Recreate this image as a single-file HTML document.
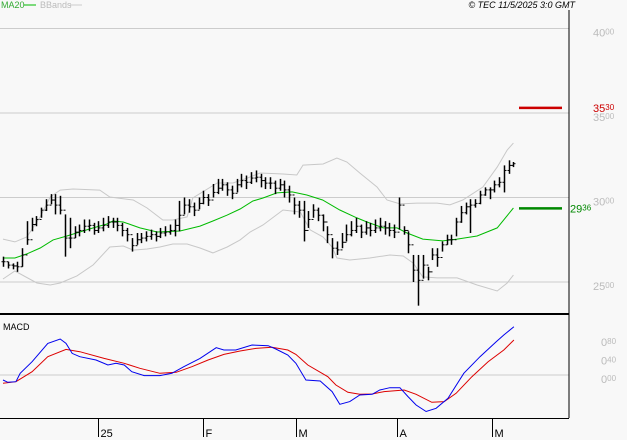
<!DOCTYPE html>
<html><head><meta charset="utf-8"><style>
html,body{margin:0;padding:0;background:#f8f8f8;}
svg{display:block;font-family:"Liberation Sans",sans-serif;}
</style></head><body>
<svg id="chart" width="627" height="440" xmlns="http://www.w3.org/2000/svg">
<rect x="0" y="0" width="627" height="440" fill="#f8f8f8"/>
<g id="grid"></g>
<g id="bands"></g>
<g id="ma"></g>
<g id="bars"></g>
<g id="macd"></g>
<g id="frame"></g>
<g id="labels"></g>
<text x="1" y="8" font-size="9" fill="#33aa33">MA20</text>
<line x1="24" y1="5" x2="36" y2="5" stroke="#00bb00" stroke-width="1"/>
<text x="40" y="8" font-size="9" fill="#bbbbbb">BBands</text>
<line x1="70" y1="5" x2="82" y2="5" stroke="#cccccc" stroke-width="1"/>
<text x="575" y="8" font-size="9" font-style="italic" text-anchor="end" fill="#000">© TEC 11/5/2025 3:0 GMT</text>
<text x="3" y="330" font-size="9" fill="#000">MACD</text>
</svg>
<script>
const closes=[2620,2600,2595,2590,2660,2750,2840,2870,2925,2955,2985,2955,2925,2760,2760,2795,2805,2830,2835,2805,2820,2835,2855,2855,2835,2805,2780,2715,2750,2760,2770,2780,2770,2790,2795,2805,2835,2895,2955,2945,2925,2965,3000,2985,3030,3055,3075,3045,3025,3075,3100,3090,3115,3120,3100,3085,3085,3055,3075,3045,3015,2955,2925,2805,2870,2925,2895,2855,2780,2700,2690,2735,2780,2805,2830,2795,2820,2805,2820,2830,2820,2805,2795,2955,2805,2720,2570,2510,2600,2560,2660,2645,2720,2750,2750,2855,2910,2945,2955,2965,3015,3045,3045,3075,3090,3160,3190,3200];
const highs=[2650,2620,2610,2620,2700,2860,2880,2890,2940,2990,3020,3020,3010,2900,2880,2830,2840,2870,2870,2850,2860,2880,2890,2880,2880,2850,2820,2760,2790,2790,2800,2810,2800,2820,2830,2840,2870,2980,3000,2990,2970,3000,3040,3020,3080,3110,3110,3090,3070,3110,3140,3130,3150,3160,3140,3120,3120,3100,3110,3100,3070,3000,2980,2980,2920,2960,2940,2900,2830,2760,2740,2790,2840,2860,2880,2840,2860,2850,2870,2880,2860,2850,2840,3000,2830,2800,2660,2660,2660,2590,2700,2700,2740,2780,2780,2880,2950,2970,2990,2990,3040,3060,3060,3100,3120,3190,3220,3210];
const lows=[2590,2580,2575,2560,2590,2720,2800,2830,2880,2920,2960,2900,2900,2650,2700,2760,2770,2790,2800,2780,2790,2800,2820,2820,2800,2770,2740,2680,2720,2730,2740,2750,2740,2760,2770,2780,2770,2800,2900,2910,2890,2930,2960,2950,3000,3020,3040,3010,2990,3030,3060,3050,3080,3090,3060,3050,3050,3020,3040,3000,2970,2900,2880,2740,2820,2880,2860,2800,2730,2640,2660,2700,2740,2770,2790,2760,2780,2770,2790,2800,2780,2770,2760,2810,2780,2670,2500,2360,2520,2510,2630,2590,2680,2720,2720,2770,2850,2900,2790,2940,2960,3010,2990,3030,3060,3030,3140,3180];
const maDays=[0,2.5,5,7.8,10.5,13.4,16.1,18.9,21.8,23,25.2,28.7,32.3,37.1,41.3,44,47,49.7,52.4,54.5,57.4,60.6,63.7,67,70.6,74.2,76.3,79.7,82.6,84.7,88,92.2,95.2,99.4,103.6,107];
const maValues=[2642,2642,2666,2701,2749,2772,2796,2820,2843,2861,2855,2820,2796,2802,2831,2861,2896,2932,2979,2997,3027,3033,3015,2985,2926,2879,2855,2820,2820,2790,2754,2743,2754,2772,2820,2938];
const upperDays=[0,2.5,5,7.8,9.9,12,14.7,20.3,22.4,27.3,30.2,33.5,35.6,38.6,39.8,44.9,48.2,51.2,53.9,58.7,61.6,62.9,67.1,70,72.1,74.8,78.4,80.5,83.2,86.8,91,93.7,96.4,100.6,103.6,105.7,107];
const upperValues=[2754,2737,2766,2885,3003,3044,3050,3044,3003,2985,2938,2867,2867,2885,2997,3086,3086,3115,3145,3139,3133,3192,3198,3234,3210,3145,3062,2985,2962,2967,2967,2956,2985,3062,3180,3281,3322];
const lowerDays=[0,2.5,7.1,9.9,12,15.5,18.9,22.4,25.2,27.3,30.2,32.9,35.6,38.6,41.3,44,47,49.7,51.8,54.5,58.7,62.3,64.4,67.1,69,70,72.7,76.9,81.1,83.9,86,88,91,95.2,99.4,103.6,105.7,107];
const lowerValues=[2518,2565,2494,2482,2494,2536,2601,2707,2713,2689,2695,2707,2725,2725,2701,2672,2707,2749,2796,2837,2926,2914,2808,2766,2707,2642,2630,2642,2660,2654,2612,2530,2524,2524,2482,2447,2494,2541];
const macdDays=[0,1,2.7,3.6,6.1,9.4,12,13.2,14.5,16.1,19.5,22,23.7,25.4,27,29.6,32.9,35.4,37.9,41.3,44.7,46.3,48.8,52.2,55.6,57.2,59.7,61.4,63.5,66.5,69,70.6,72.7,74.8,77.4,79,81.1,83.2,84.9,86.6,88.7,90.8,93.3,96.6,100,103.4,105,107.1];
const macdValues=[-0.108,-0.158,-0.144,0.036,0.288,0.684,0.778,0.684,0.468,0.396,0.324,0.216,0.252,0.216,0.072,-0.014,-0.014,0.036,0.18,0.36,0.59,0.54,0.54,0.648,0.634,0.562,0.432,0.252,-0.108,-0.13,-0.36,-0.634,-0.576,-0.432,-0.418,-0.324,-0.274,-0.274,-0.468,-0.648,-0.79,-0.72,-0.504,0.036,0.396,0.72,0.864,1.044];
const signalDays=[0,2.7,6.1,9.4,13.2,16.1,21.2,25.4,28.7,32.9,36.3,39.6,43,46.3,49.7,53,56.4,59.7,61.4,63.9,68.1,69.8,72.3,74.8,77.4,79.9,84.1,86.6,89.9,92.5,95,98.3,101.7,105,107.1];
const signalValues=[-0.18,-0.144,0.072,0.396,0.554,0.504,0.36,0.252,0.144,0.036,0.058,0.18,0.324,0.446,0.518,0.576,0.598,0.54,0.446,0.216,-0.036,-0.216,-0.374,-0.418,-0.41,-0.36,-0.324,-0.418,-0.59,-0.576,-0.396,-0.036,0.288,0.54,0.756];
const priceTicks=[4000,3500,3000,2500];
const macdTicks=[0.8,0.4,0];
const monthLabels=["25","F","M","A","M"];
const monthDays=[20,42,61.5,82.6,102.5];
const lastPrice=3530, lastMA=2936;

const NS="http://www.w3.org/2000/svg";
const X=d=>3+d*4.77;
const Y=p=>197.5-(p-3000)/5.917;
const MY=v=>375-v/0.4*18.5;
function mk(tag,attrs,parent){const e=document.createElementNS(NS,tag);for(const k in attrs)e.setAttribute(k,attrs[k]);document.getElementById(parent).appendChild(e);return e;}
function poly(days,vals,yf,color,parent,name){
  const pts=days.map((d,i)=>X(d).toFixed(1)+","+yf(vals[i]).toFixed(1)).join(" ");
  const e=mk("polyline",{points:pts,fill:"none",stroke:color,"stroke-width":1},parent);
  
  
}
priceTicks.forEach(p=>{const e=mk("line",{x1:0,x2:569,y1:Y(p),y2:Y(p),stroke:"#cccccc","stroke-width":1},"grid");
  
  });
{const e=mk("line",{x1:0,x2:569,y1:MY(0),y2:MY(0),stroke:"#cccccc","stroke-width":1},"grid");
  
  }
poly(upperDays,upperValues,Y,"#c8c8c8","bands","bband-upper");
poly(lowerDays,lowerValues,Y,"#c8c8c8","bands","bband-lower");
poly(maDays,maValues,Y,"#00bb00","ma","ma20");
closes.forEach((c,i)=>{
  const x=Math.round(X(i))+0.5, o=i>0?closes[i-1]:c;
  const g=mk("g",{},"bars");
  
  
  const a=document.createElementNS(NS,"line");
  a.setAttribute("x1",x);a.setAttribute("x2",x);a.setAttribute("y1",Y(highs[i]));a.setAttribute("y2",Y(lows[i]));a.setAttribute("stroke","#000");a.setAttribute("stroke-width","1.5");g.appendChild(a);
  const b=document.createElementNS(NS,"line");
  b.setAttribute("x1",x-2);b.setAttribute("x2",x);b.setAttribute("y1",Y(o));b.setAttribute("y2",Y(o));b.setAttribute("stroke","#000");g.appendChild(b);
  const cl=document.createElementNS(NS,"line");
  cl.setAttribute("x1",x);cl.setAttribute("x2",x+2);cl.setAttribute("y1",Y(c));cl.setAttribute("y2",Y(c));cl.setAttribute("stroke","#000");g.appendChild(cl);
});
poly(signalDays,signalValues,MY,"#dd0000","macd","macd-signal-line");
poly(macdDays,macdValues,MY,"#0000ee","macd","macd-line");
[[569,10,569,418,1],[0,314,569,314,2],[0,418.5,569,418.5,1]].forEach(l=>{
  const e=mk("line",{x1:l[0],y1:l[1],x2:l[2],y2:l[3],stroke:"#000","stroke-width":l[4]},"frame");
  
  });
{const e=mk("line",{x1:519,x2:562,y1:Y(lastPrice),y2:Y(lastPrice),stroke:"#cc0000","stroke-width":2.5},"labels");
 
 
 const f=mk("line",{x1:519,x2:562,y1:Y(lastMA),y2:Y(lastMA),stroke:"#008800","stroke-width":2.5},"labels");
 
 }
function splitLabel(x,y,big,small,color,name){
  const t=mk("text",{x:x,y:y,fill:color,"font-size":11},"labels");
  
  
  const s1=document.createElementNS(NS,"tspan");s1.textContent=big;t.appendChild(s1);
  const s2=document.createElementNS(NS,"tspan");s2.setAttribute("font-size","8");s2.setAttribute("dy","-2");s2.textContent=small;t.appendChild(s2);
}
priceTicks.forEach(p=>{const s=String(p);splitLabel(593,Y(p)+8,s.slice(0,2),s.slice(2),"#bbbbbb","price-tick-label");});
{const s=String(lastPrice);splitLabel(593,Y(lastPrice)+4,s.slice(0,2),s.slice(2),"#cc0000","last-price-label");}
{const s=String(lastMA);splitLabel(570,Y(lastMA)+4,s.slice(0,2),s.slice(2),"#008800","ma20-last-label");}
macdTicks.forEach(v=>{const s=v.toFixed(2).replace(".","");splitLabel(601,MY(v)+8,s.slice(0,1),s.slice(1),"#bbbbbb","macd-tick-label");});
monthDays.forEach((d,i)=>{
  const x=Math.round(X(d))+0.5;
  const l=mk("line",{x1:x,x2:x,y1:419,y2:437,stroke:"#000","stroke-width":1},"labels");
  
  
  const t=mk("text",{x:x+2,y:437,"font-size":11,fill:"#000"},"labels");
  
  
  t.textContent=monthLabels[i];
});
</script>
</body></html>
